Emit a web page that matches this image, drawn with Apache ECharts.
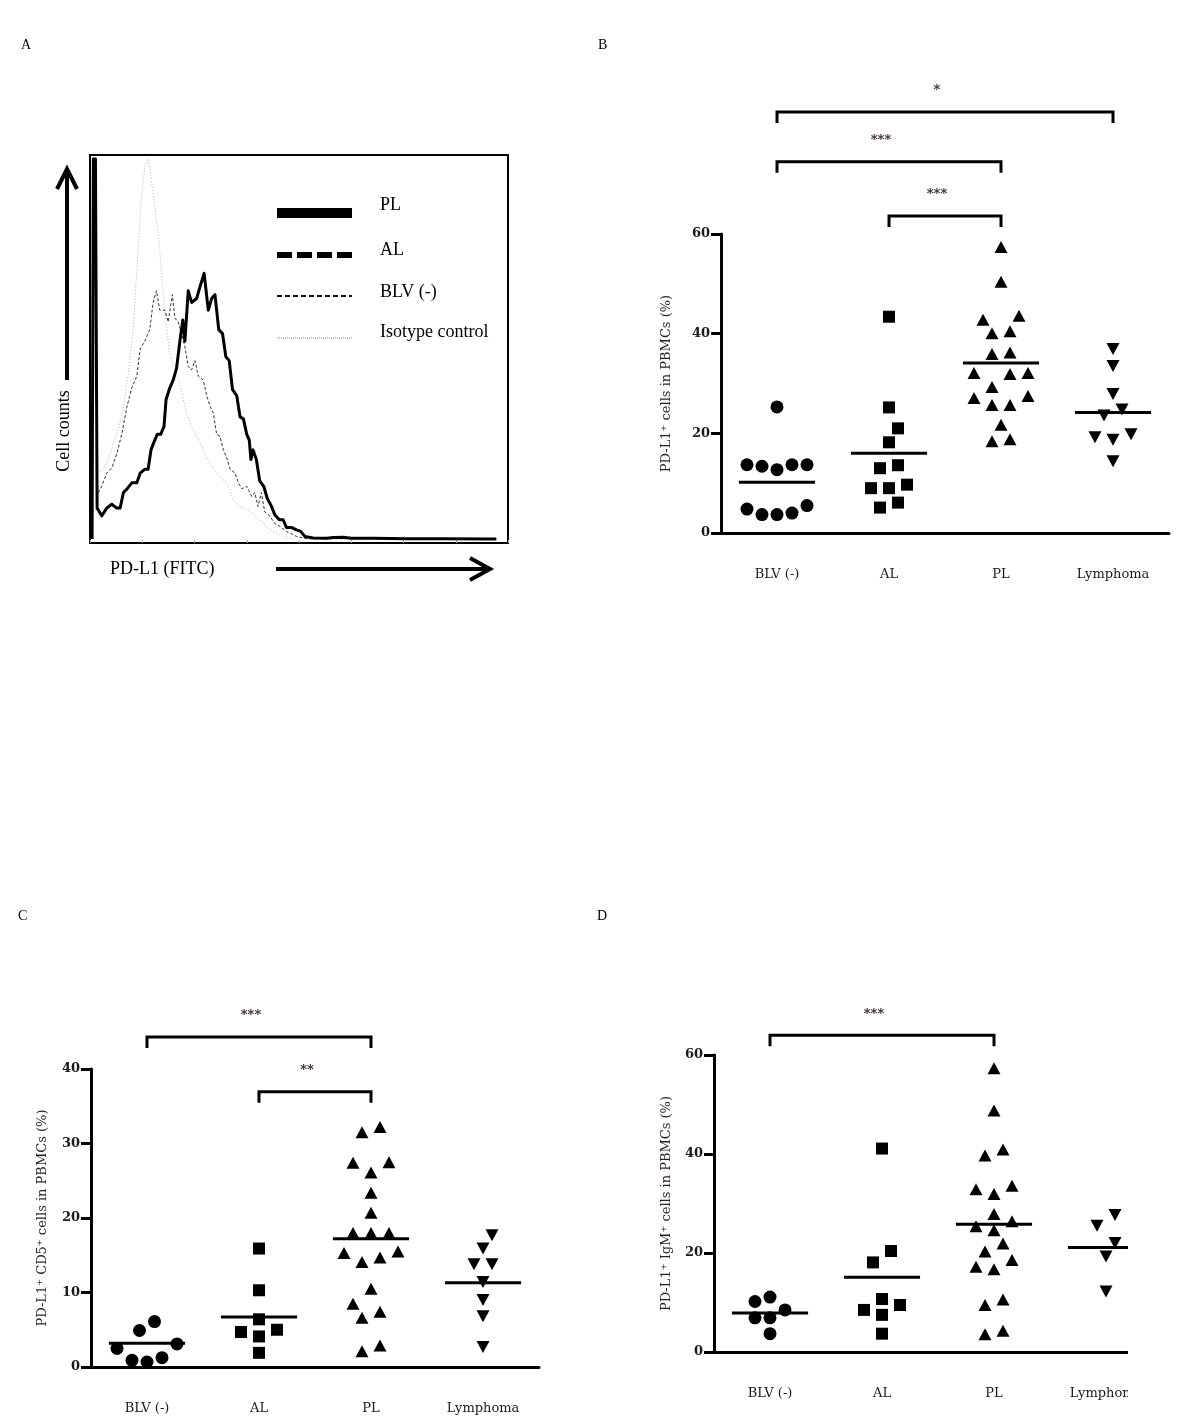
<!DOCTYPE html>
<html><head><meta charset="utf-8">
<script src="https://cdn.jsdelivr.net/npm/echarts@6/dist/echarts.min.js"></script>
<style>html,body{margin:0;padding:0;background:#fff}#c{width:1200px;height:1427px}</style>
</head><body><div id="c"></div>
<script>
// ---------- DATA ----------
const groups = ['BLV (-)', 'AL', 'PL', 'Lymphoma'];

// Panel A: flow-cytometry histograms [PD-L1 (FITC) channel, cell counts]
const histPL = [[5,1],[8,99],[13,99],[17,9],[28,7],[40,9],[52,10],[64,9],[72,9],[80,13],[89,14],[100,15.5],[112,15.5],[120,18],[131,19],[139,19],[146,24],[153,26],[161,28],[169,28],[177,30],[182,37],[191,40],[199,42],[207,45],[215,52],[222,57.5],[227,52],[235,65],[243,62],[255,63],[263,66],[273,69.5],[283,60],[291,63],[299,64],[308,55],[317,54],[325,48],[333,47],[341,39.5],[351,38],[359,32.5],[367,32],[375,28],[381,26.5],[385,21.5],[390,24],[398,21.5],[406,16],[416,14.5],[424,11.5],[434,9.5],[442,7.3],[453,6],[462,6],[470,4],[482,4],[494,3.4],[504,3],[514,1.7],[534,1.3],[566,1.2],[582,1.4],[606,1.5],[626,1.2],[677,1.2],[757,1.1],[837,1.1],[972,1]];
const histBLV = [[20,13],[28,14.6],[40,18],[52,19.3],[64,23],[76,28],[88,35],[100,40],[112,43],[120,50],[131,52],[143,55],[151,62],[159,65],[167,60],[179,60],[187,57],[197,64],[203,58],[211,57],[219,54],[227,50.6],[235,45.5],[243,44.6],[251,47],[259,43],[271,42],[279,38],[288,35],[295,33.5],[303,28],[311,27.5],[319,24],[327,22],[335,19],[347,18],[355,15.5],[363,14],[375,14.6],[387,12],[394,13],[402,9.4],[410,13],[418,8],[430,7],[442,5],[454,4.3],[470,3],[494,1.7],[518,1.1],[600,1.1],[972,1]];
const histIso = [[18,18],[32,19],[48,23],[64,28],[80,35],[92,44],[104,56],[114,74],[122,88],[131,97],[140,99],[150,91],[165,78],[176,63],[190,49],[207,44],[219,39],[231,33.5],[247,29],[263,26],[279,22],[295,19],[311,17],[327,15.5],[343,11],[359,9.4],[375,8.6],[390,7.7],[406,6],[422,4.3],[438,3],[462,1.7],[486,1.1]];
const legendA = ['PL', 'AL', 'BLV (-)', 'Isotype control'];

// Panel B: PD-L1+ cells in PBMCs (%)
const bBLV = [25.3, 13.7, 13.4, 12.7, 13.7, 13.7, 5.5, 4.0, 3.7, 3.7, 4.8];
const bAL  = [43.4, 25.2, 21.0, 18.2, 13.0, 13.6, 9.0, 9.0, 9.7, 5.1, 6.1];
const bPL  = [57.4, 50.4, 43.6, 42.8, 40.5, 40.1, 35.9, 36.2, 32.1, 31.9, 32.1, 29.3, 27.1, 25.7, 25.7, 27.5, 21.7, 18.4, 18.8];
const bLym = [36.9, 33.5, 27.9, 24.8, 23.6, 19.2, 18.7, 19.8, 14.4];
const bMeans = [10.2, 16.0, 34.1, 24.2];
const bBrackets = [{from:0, to:3, y:84.5, label:'*'}, {from:0, to:2, y:74.5, label:'***'}, {from:1, to:2, y:63.6, label:'***'}];

// Panel C: PD-L1+ CD5+ cells in PBMCs (%)
const cBLV = [6.1, 4.9, 3.1, 2.5, 1.25, 0.67, 0.9];
const cAL  = [15.9, 10.3, 6.4, 4.7, 4.1, 5.0, 1.9];
const cPL  = [31.5, 32.2, 27.4, 26.1, 27.5, 23.4, 20.7, 18.0, 18.0, 18.0, 15.5, 14.7, 14.1, 15.3, 10.5, 8.5, 7.4, 6.6, 2.1, 2.9];
const cLym = [17.7, 15.9, 13.8, 13.8, 11.4, 9.0, 6.8, 2.7];
const cMeans = [3.2, 6.7, 17.2, 11.3];
const cBrackets = [{from:0, to:2, y:44.3, label:'***'}, {from:1, to:2, y:36.95, label:'**'}];

// Panel D: PD-L1+ IgM+ cells in PBMCs (%)
const dBLV = [10.2, 11.1, 8.5, 6.9, 6.9, 3.7];
const dAL  = [41.1, 20.4, 18.1, 10.7, 9.5, 8.5, 7.5, 3.7];
const dPL  = [57.3, 48.8, 39.7, 40.9, 32.9, 31.9, 33.6, 27.9, 26.4, 24.6, 25.4, 21.9, 20.3, 18.6, 16.7, 17.2, 10.6, 9.5, 3.6, 4.3];
const dLym = [27.7, 25.5, 22.0, 19.3, 12.2];
const dMeans = [7.9, 15.1, 25.8, 21.1];
const dBrackets = [{from:0, to:2, y:64.0, label:'***'}];

// ---------- LAYOUT / STYLE ----------
const SERIF = 'DejaVu Serif';
const TSERIF = '"Liberation Serif", "Times New Roman", serif';
const BAND = 112;           // px per category
const symbols = [
  {symbol:'circle', size:13, rot:0, step:15},
  {symbol:'rect', size:12, rot:0, step:18},
  {symbol:'triangle', size:[13,12], rot:0, step:18},
  {symbol:'triangle', size:[13,12], rot:180, step:18}
];

// column-scatter (beeswarm) layout: close values share a row, spread symmetrically,
// rows are shifted / widened when they would overlap points already placed
function swarm(vals, pxPerUnit, stepPx) {
  const ROW = 13, R = 15;
  const idx = vals.map((v, i) => i).sort((a, b) => vals[a] - vals[b]);
  const out = new Array(vals.length).fill(0);
  const placed = [];
  const collides = (offs, row) => row.some((p, k) => placed.some(q => {
    const dx = (offs[k] - q.o) * stepPx, dy = (vals[p] - q.v) * pxPerUnit;
    return dx * dx + dy * dy < R * R;
  }));
  let i = 0;
  while (i < idx.length) {
    const start = vals[idx[i]];
    const row = [idx[i]];
    let j = i + 1;
    while (j < idx.length && (vals[idx[j]] - start) * pxPerUnit < ROW) { row.push(idx[j]); j++; }
    const n = row.length, base = [];
    for (let k = 0; k < n; k++) base.push(k - (n - 1) / 2);
    base.sort((a, b) => Math.abs(a) - Math.abs(b) || a - b);
    const cands = [base];
    for (let g = 0.5; g <= 4; g += 0.5) {
      if (n > 1) cands.push(base.map(o => o === 0 ? 0 : o + Math.sign(o) * g));
      cands.push(base.map(o => o + g));
      cands.push(base.map(o => o - g));
    }
    let chosen = cands.find(c => !collides(c, row)) || base;
    row.forEach((p, k) => { out[p] = chosen[k]; placed.push({o:chosen[k], v:vals[p]}); });
    i = j;
  }
  return out.map(o => o * stepPx / BAND);
}

const option = {animation:false, backgroundColor:'#fff', grid:[], xAxis:[], yAxis:[], series:[], graphic:[]};

// ---------- PANEL A ----------
option.grid.push({left:90, top:155, width:418, height:388, show:true, borderColor:'#000', borderWidth:2, backgroundColor:'transparent'});
option.xAxis.push({type:'value', gridIndex:0, min:0, max:1000, interval:125,
  axisLine:{show:false}, axisTick:{show:true, inside:true, length:3, lineStyle:{color:'#aaa', width:1}},
  axisLabel:{show:false}, splitLine:{show:false}});
option.yAxis.push({type:'value', gridIndex:0, min:0, max:100, show:false, splitLine:{show:false}});
option.series.push(
  {type:'line', name:'Isotype control', xAxisIndex:0, yAxisIndex:0, data:histIso, symbol:'none', silent:true,
   lineStyle:{color:'#b5b5b5', width:1, type:[1,2]}, z:2},
  {type:'line', name:'BLV (-)', xAxisIndex:0, yAxisIndex:0, data:histBLV, symbol:'none', silent:true,
   lineStyle:{color:'#333', width:1, type:[3,2]}, z:3},
  {type:'line', name:'PL', xAxisIndex:0, yAxisIndex:0, data:histPL, symbol:'none', silent:true,
   lineStyle:{color:'#000', width:3, join:'round'}, z:4}
);
// legend keys for panel A
const legStyles = [
  {w:10, dash:null, c:'#000'},
  {w:6, dash:[15,5], c:'#000'},
  {w:2, dash:[5,3], c:'#111'},
  {w:1, dash:[1,1], c:'#888'}
];
const legY = [213, 255, 296, 338];
const legTY = [205, 250, 292, 332];
legendA.forEach((name, i) => {
  const s = legStyles[i];
  option.graphic.push({type:'line', shape:{x1:277, y1:legY[i], x2:352, y2:legY[i]},
    style:{stroke:s.c, lineWidth:s.w, lineDash:s.dash}});
  option.graphic.push({type:'text', x:380, y:legTY[i],
    style:{text:name, font:'18px ' + TSERIF, fill:'#000', align:'left', verticalAlign:'middle'}});
});
// arrows and axis captions of panel A
option.graphic.push(
  {type:'line', shape:{x1:67, y1:380, x2:67, y2:170}, style:{stroke:'#000', lineWidth:4}},
  {type:'polyline', shape:{points:[[57,189],[67,169],[77,189]]}, style:{stroke:'#000', lineWidth:4, fill:null}},
  {type:'line', shape:{x1:276, y1:569, x2:488, y2:569}, style:{stroke:'#000', lineWidth:4}},
  {type:'polyline', shape:{points:[[470,558],[490,569],[470,580]]}, style:{stroke:'#000', lineWidth:4, fill:null}},
  {type:'text', x:64, y:431, rotation:Math.PI/2,
   style:{text:'Cell counts', font:'18px ' + TSERIF, fill:'#000', align:'center', verticalAlign:'middle'}},
  {type:'text', x:110, y:569,
   style:{text:'PD-L1 (FITC)', font:'18px ' + TSERIF, fill:'#000', align:'left', verticalAlign:'middle'}}
);

// panel letters
[['A',21,45],['B',598,45],['C',18,916],['D',597,916]].forEach(([t,x,y]) => {
  option.graphic.push({type:'text', x:x, y:y, style:{text:t, font:'14px ' + TSERIF, fill:'#000', align:'left', verticalAlign:'middle'}});
});

// ---------- PANELS B, C, D ----------
function addPanel(p) {
  const gi = option.grid.length;
  option.grid.push({left:p.left, top:p.top, width:BAND * 4, height:p.height});
  option.xAxis.push({type:'category', gridIndex:gi, data:groups, boundaryGap:true,
    axisLine:{onZero:false, lineStyle:{color:'#000', width:3}},
    axisTick:{alignWithLabel:true, length:10, lineStyle:{color:'#000', width:3}},
    axisLabel:{margin:35, color:'#1a1a1a', fontFamily:SERIF, fontSize:13},
    splitLine:{show:false}});
  const valIdx = option.xAxis.length;
  option.xAxis.push({type:'value', gridIndex:gi, min:-0.5, max:3.5, show:false, splitLine:{show:false}});
  const yIdx = option.yAxis.length;
  option.yAxis.push({type:'value', gridIndex:gi, min:0, max:p.yMax, interval:p.yInt,
    name:p.yName, nameLocation:'middle', nameGap:p.nameGap,
    nameTextStyle:{fontFamily:SERIF, fontSize:13, color:'#2a1f1f'},
    axisLine:{show:true, onZero:false, lineStyle:{color:'#000', width:3}},
    axisTick:{show:true, length:10, lineStyle:{color:'#000', width:3}},
    axisLabel:{margin:11, fontFamily:SERIF, fontWeight:'bold', fontSize:13, color:'#1a1a1a'},
    splitLine:{show:false}});
  const pxPerUnit = p.height / p.yMax;
  p.sets.forEach((vals, g) => {
    const s = symbols[g];
    const off = swarm(vals, pxPerUnit, s.step);
    option.series.push({type:'scatter', xAxisIndex:valIdx, yAxisIndex:yIdx, silent:true,
      symbol:s.symbol, symbolSize:s.size, symbolRotate:s.rot, itemStyle:{color:'#000', opacity:1},
      data: vals.map((v, i) => [g + off[i], v]), z:3});
  });
  // mean lines
  option.series.push({type:'custom', xAxisIndex:valIdx, yAxisIndex:yIdx, silent:true, clip:false, z:4,
    data: p.means.map((m, i) => [i, m]),
    renderItem: (params, api) => {
      const a = api.coord([api.value(0) - 0.34, api.value(1)]);
      const b = api.coord([api.value(0) + 0.34, api.value(1)]);
      return {type:'line', shape:{x1:a[0], y1:a[1], x2:b[0], y2:b[1]}, style:{stroke:'#000', lineWidth:3}};
    }});
  // significance brackets
  option.series.push({type:'custom', xAxisIndex:valIdx, yAxisIndex:yIdx, silent:true, clip:false, z:4,
    data: p.brackets.map(b => [b.from, b.to, b.y]),
    renderItem: (params, api) => {
      const br = p.brackets[params.dataIndex];
      const a = api.coord([api.value(0), api.value(2)]);
      const b = api.coord([api.value(1), api.value(2)]);
      const drop = 11;
      return {type:'group', children:[
        {type:'polyline', shape:{points:[[a[0], a[1] + drop], [a[0], a[1]], [b[0], b[1]], [b[0], b[1] + drop]]},
         style:{stroke:'#000', lineWidth:3, fill:null}},
        {type:'text', x:(a[0] + b[0]) / 2 - 8, y:a[1] - 21,
         style:{text:br.label, font:'bold 13px ' + SERIF, fill:'#2a1a1a', align:'center', verticalAlign:'middle'}}
      ]};
    }});
}

addPanel({left:721, top:234, height:299, yMax:60, yInt:20, nameGap:48,
  yName:'PD-L1\u207A cells in PBMCs (%)', sets:[bBLV, bAL, bPL, bLym], means:bMeans, brackets:bBrackets});
addPanel({left:91, top:1069, height:298, yMax:40, yInt:10, nameGap:42,
  yName:'PD-L1\u207A CD5\u207A cells in PBMCs (%)', sets:[cBLV, cAL, cPL, cLym], means:cMeans, brackets:cBrackets});
addPanel({left:714, top:1055, height:297, yMax:60, yInt:20, nameGap:41,
  yName:'PD-L1\u207A IgM\u207A cells in PBMCs (%)', sets:[dBLV, dAL, dPL, dLym], means:dMeans, brackets:dBrackets});

// panel D is cropped at its right edge in the original figure
option.graphic.push({type:'rect', shape:{x:1128, y:1040, width:72, height:387}, style:{fill:'#fff'}, z:100});

const chart = echarts.init(document.getElementById('c'), null, {renderer:'canvas', width:1200, height:1427});
chart.setOption(option);
</script>
</body></html>
